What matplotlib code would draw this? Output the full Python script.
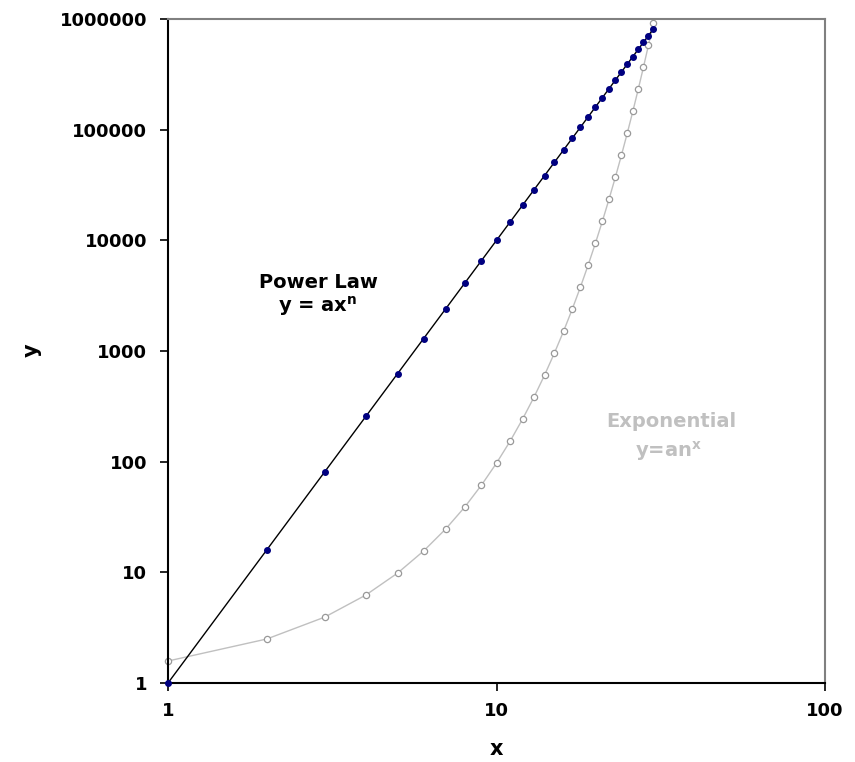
import matplotlib
matplotlib.use("Agg")
import matplotlib.pyplot as plt
from matplotlib.ticker import FixedLocator, FixedFormatter, NullLocator

# Data
x_vals = list(range(1, 31))
power_law = [1, 16, 81, 256, 625, 1296, 2401, 4096, 6561, 10000,
             14641, 20736, 28561, 38416, 50625, 65536, 83521, 104976, 130321, 160000,
             194481, 234256, 279841, 331776, 390625, 456976, 531441, 614656, 707281, 810000]
exponential = [1.58, 2.50, 3.94, 6.23, 9.85, 15.6, 24.6, 38.8, 61.4, 97.0,
               153, 242, 382, 604, 955, 1508, 2383, 3766, 5950, 9400,
               14853, 23468, 37079, 58585, 92565, 146253, 231080, 365106, 576868, 911452]
x_ticks = [1, 10, 100]
x_tick_labels = ["1", "10", "100"]
y_ticks = [1, 10, 100, 1000, 10000, 100000, 1000000]
y_tick_labels = ["1", "10", "100", "1000", "10000", "100000", "1000000"]

fig = plt.figure(figsize=(8.55, 7.62), dpi=100)
ax = fig.add_axes([168/855, 1 - 683/762, (825-168)/855, (683-19)/762])

ax.plot(x_vals, exponential, color="#c0c0c0", lw=1.0, marker="o", ms=4.5,
        mfc="white", mec="#999999", mew=0.9, zorder=2, clip_on=False)
ax.plot(x_vals, power_law, color="black", lw=1.0, marker="o", ms=4.0,
        mfc="#000080", mec="#000080", zorder=3, clip_on=False)

ax.set_xscale("log")
ax.set_yscale("log")
ax.set_xlim(1, 100)
ax.set_ylim(1, 1000000)
ax.xaxis.set_major_locator(FixedLocator(x_ticks))
ax.xaxis.set_major_formatter(FixedFormatter(x_tick_labels))
ax.yaxis.set_major_locator(FixedLocator(y_ticks))
ax.yaxis.set_major_formatter(FixedFormatter(y_tick_labels))
ax.xaxis.set_minor_locator(NullLocator())
ax.yaxis.set_minor_locator(NullLocator())

for lab in ax.get_xticklabels() + ax.get_yticklabels():
    lab.set_fontfamily("DejaVu Sans")
    lab.set_fontweight("bold")
    lab.set_fontsize(13)

ax.tick_params(axis="both", direction="out", length=6, width=1.2, color="black")
ax.tick_params(axis="y", pad=9)
ax.tick_params(axis="x", pad=8)

ax.spines["left"].set_color("black")
ax.spines["bottom"].set_color("black")
ax.spines["left"].set_linewidth(1.5)
ax.spines["bottom"].set_linewidth(1.5)
ax.spines["top"].set_color("#808080")
ax.spines["right"].set_color("#808080")
ax.spines["top"].set_linewidth(1.5)
ax.spines["right"].set_linewidth(1.5)

fig.text(496/855, 1 - 749/762, "x", ha="center", va="center",
         fontsize=15, fontweight="bold", family="DejaVu Sans")
fig.text(32/855, 1 - 350/762, "y", ha="center", va="center", rotation=90,
         fontsize=15, fontweight="bold", family="DejaVu Sans")

fig.text(318/855, 1 - 283/762, "Power Law", ha="center", va="center",
         fontsize=14, fontweight="bold", family="DejaVu Sans", color="black")
fig.text(318/855, 1 - 306/762, r"y = ax$^{\mathbf{n}}$", ha="center", va="center",
         fontsize=14, fontweight="bold", family="DejaVu Sans", color="black")
fig.text(671/855, 1 - 421/762, "Exponential", ha="center", va="center",
         fontsize=14, fontweight="bold", family="DejaVu Sans", color="#c0c0c0")
fig.text(668/855, 1 - 451/762, r"y=an$^{\mathbf{x}}$", ha="center", va="center",
         fontsize=14, fontweight="bold", family="DejaVu Sans", color="#c0c0c0")

fig.savefig("out.png", dpi=100)
